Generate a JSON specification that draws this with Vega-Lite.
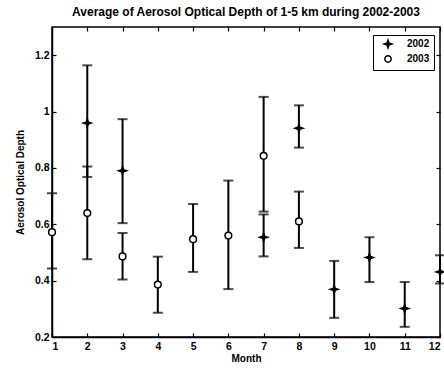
{
  "$schema": "https://vega.github.io/schema/vega-lite/v6.json",
  "width": 388,
  "height": 310,
  "autosize": "none",
  "padding": {"left": 52, "top": 27, "right": 4, "bottom": 35},
  "background": "white",
  "config": {
    "font": "Liberation Sans",
    "view": {"stroke": "black", "strokeWidth": 1.5},
    "axis": {
      "domainColor": "black", "domainWidth": 1.5, "tickColor": "black", "tickWidth": 1.2,
      "labelColor": "black", "labelFont": "Liberation Sans", "labelFontWeight": "bold", "labelFontSize": 10.5,
      "titleColor": "black", "titleFont": "Liberation Sans", "titleFontWeight": "bold", "titleFontSize": 10,
      "grid": false
    },
    "legend": {
      "labelFont": "Liberation Sans", "labelFontWeight": "bold", "labelFontSize": 10, "labelColor": "black"
    }
  },
  "title": {"text": "Average of Aerosol Optical Depth of 1-5 km during 2002-2003", "fontSize": 12, "fontWeight": "bold", "color": "black", "font": "Liberation Sans", "offset": 7},
  "data": {"values": [
    {"month": 2, "year": "2002", "value": 0.959, "lower": 0.768, "upper": 1.164},
    {"month": 3, "year": "2002", "value": 0.79, "lower": 0.604, "upper": 0.973},
    {"month": 7, "year": "2002", "value": 0.554, "lower": 0.486, "upper": 0.635},
    {"month": 8, "year": "2002", "value": 0.941, "lower": 0.872, "upper": 1.022},
    {"month": 9, "year": "2002", "value": 0.369, "lower": 0.268, "upper": 0.47},
    {"month": 10, "year": "2002", "value": 0.482, "lower": 0.395, "upper": 0.554},
    {"month": 11, "year": "2002", "value": 0.301, "lower": 0.236, "upper": 0.395},
    {"month": 12, "year": "2002", "value": 0.431, "lower": 0.39, "upper": 0.49},
    {"month": 1, "year": "2003", "value": 0.572, "lower": 0.443, "upper": 0.71},
    {"month": 2, "year": "2003", "value": 0.64, "lower": 0.476, "upper": 0.805},
    {"month": 3, "year": "2003", "value": 0.486, "lower": 0.404, "upper": 0.569},
    {"month": 4, "year": "2003", "value": 0.386, "lower": 0.286, "upper": 0.485},
    {"month": 5, "year": "2003", "value": 0.547, "lower": 0.431, "upper": 0.672},
    {"month": 6, "year": "2003", "value": 0.56, "lower": 0.37, "upper": 0.755},
    {"month": 7, "year": "2003", "value": 0.843, "lower": 0.645, "upper": 1.052},
    {"month": 8, "year": "2003", "value": 0.61, "lower": 0.516, "upper": 0.716}
  ]},
  "layer": [
    {
      "mark": {"type": "rule", "strokeWidth": 2, "color": "black"},
      "encoding": {
        "x": {"field": "month", "type": "quantitative", "scale": {"domain": [1, 12], "nice": false},
              "axis": {"orient": "bottom", "values": [1,2,3,4,5,6,7,8,9,10,11,12], "tickSize": -4, "labelPadding": 8, "title": "Month", "titlePadding": 2}},
        "y": {"field": "lower", "type": "quantitative", "scale": {"domain": [0.2, 1.3], "nice": false},
              "axis": {"orient": "left", "values": [0.2,0.4,0.6,0.8,1,1.2], "format": "~g", "tickSize": -4, "labelPadding": 7, "title": "Aerosol Optical Depth", "titlePadding": 9}},
        "y2": {"field": "upper"}
      }
    },
    {
      "mark": {"type": "tick", "orient": "horizontal", "size": 10, "thickness": 2, "color": "black"},
      "encoding": {
        "x": {"field": "month", "type": "quantitative",
              "axis": {"orient": "top", "values": [1,2,3,4,5,6,7,8,9,10,11,12], "tickSize": -4, "labels": false, "title": null, "domain": false}},
        "y": {"field": "lower", "type": "quantitative",
              "axis": {"orient": "right", "values": [0.2,0.4,0.6,0.8,1,1.2], "tickSize": -4, "labels": false, "title": null, "domain": false}}
      }
    },
    {
      "mark": {"type": "tick", "orient": "horizontal", "size": 10, "thickness": 2, "color": "black"},
      "encoding": {
        "x": {"field": "month", "type": "quantitative", "axis": null},
        "y": {"field": "upper", "type": "quantitative", "axis": null}
      }
    },
    {
      "mark": {"type": "point", "size": 45, "strokeWidth": 1.5, "opacity": 1},
      "encoding": {
        "x": {"field": "month", "type": "quantitative", "axis": null},
        "y": {"field": "value", "type": "quantitative", "axis": null},
        "shape": {"field": "year", "type": "nominal",
                  "scale": {"domain": ["2002", "2003"], "range": ["M0,-1.2L0.3,-0.3L1.2,0L0.3,0.3L0,1.2L-0.3,0.3L-1.2,0L-0.3,-0.3Z", "circle"]},
                  "legend": {"title": null, "orient": "none", "legendX": 321, "legendY": 8, "strokeColor": "black", "fillColor": "white", "padding": 4, "rowPadding": 1, "symbolStrokeWidth": 1.5, "symbolSize": 40, "labelOffset": 14, "symbolOffset": 6,
                             "encode": {"symbols": {"update": {"stroke": {"value": "black"}}}}}},
        "fill": {"field": "year", "type": "nominal",
                 "scale": {"domain": ["2002", "2003"], "range": ["black", "white"]},
                 "legend": {"title": null, "orient": "none", "legendX": 321, "legendY": 8, "strokeColor": "black", "fillColor": "white", "padding": 4, "rowPadding": 1, "symbolStrokeWidth": 1.5, "symbolSize": 40, "labelOffset": 14, "symbolOffset": 6,
                            "encode": {"symbols": {"update": {"stroke": {"value": "black"}}}}}},
        "stroke": {"field": "year", "type": "nominal",
                   "scale": {"domain": ["2002", "2003"], "range": ["black", "black"]},
                   "legend": {"title": null, "orient": "none", "legendX": 321, "legendY": 8, "strokeColor": "black", "fillColor": "white", "padding": 4, "rowPadding": 1, "symbolStrokeWidth": 1.5, "symbolSize": 40, "labelOffset": 14, "symbolOffset": 6}}
      }
    }
  ],
  "resolve": {"axis": {"x": "independent", "y": "independent"}}
}
